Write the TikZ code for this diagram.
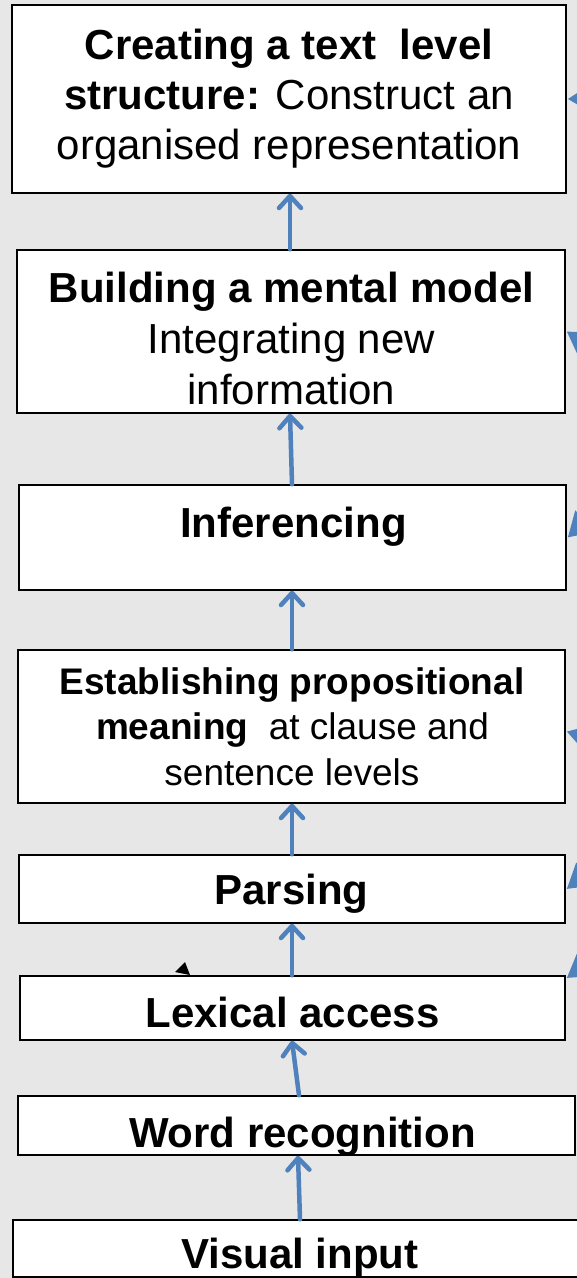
\documentclass[tikz,border=0pt]{standalone}
\usepackage{fontspec}
\setmainfont{Liberation Sans}
\usetikzlibrary{arrows.meta,calc}
\definecolor{bgc}{HTML}{E7E7E7}
\definecolor{ablue}{HTML}{4F81BD}
\begin{document}
\begin{tikzpicture}[x=1pt,y=-1pt,
  box/.style={draw=black,line width=1.5pt,fill=white,inner sep=0pt},
  big/.style={font=\fontsize{42}{50}\selectfont,anchor=base,inner sep=0pt},
  mid/.style={font=\fontsize{37}{45}\selectfont,anchor=base,inner sep=0pt},
  uparrow/.style={draw=ablue,line width=4.5pt,line cap=round,-{Straight Barb[length=12pt,width=22pt,round]}},
  sidearrow/.style={draw=ablue,line width=5pt,-{Triangle[length=24pt,width=28pt]}}
]
\useasboundingbox (0,0) rectangle (577,1278);
\clip (0,0) rectangle (577,1278);
\fill[bgc] (0,0) rectangle (577,1278);

% boxes
\node[box,minimum width=554pt,minimum height=188pt] (b1) at (289,99) {};
\node[box,minimum width=548pt,minimum height=163pt] (b2) at (291,331.5) {};
\node[box,minimum width=547pt,minimum height=105pt] (b3) at (292.5,537.5) {};
\node[box,minimum width=547pt,minimum height=153pt] (b4) at (291.5,726.5) {};
\node[box,minimum width=546pt,minimum height=68pt] (b5) at (292,889) {};
\node[box,minimum width=545pt,minimum height=64pt] (b6) at (292.5,1008) {};
\node[box,minimum width=557pt,minimum height=59pt] (b7) at (296.5,1125.5) {};
\node[box,minimum width=577pt,minimum height=57pt] (b8) at (301.5,1248.5) {};

% texts
\node[big] (t1a) at (289,59) {\textbf{Creating a text\ \ level}};
\node[big] (t1b) at (289,109) {\textbf{structure:} Construct an};
\node[big] (t1c) at (289,159) {organised representation};
\node[big] (t2a) at (291.5,302) {\textbf{Building a mental model}};
\node[big] (t2b) at (291.5,353) {Integrating new};
\node[big] (t2c) at (291.5,404) {information};
\node[big] (t3) at (293.5,537) {\textbf{Inferencing}};
\node[mid] (t4a) at (292,694) {\textbf{Establishing propositional}};
\node[mid] (t4b) at (292.5,739) {\textbf{meaning}\ \ at clause and};
\node[mid] (t4c) at (292,785) {sentence levels};
\node[big] (t5) at (291.5,904) {\textbf{Parsing}};
\node[big] (t6) at (292.5,1027) {\textbf{Lexical access}};
\node[big] (t7) at (302.5,1147) {\textbf{Word recognition}};
\node[big] (t8) at (300,1268) {\textbf{Visual input}};

% upward arrows
\draw[uparrow] ([xshift=-1pt]b2.north) -- ([xshift=1pt]b1.south);
\draw[uparrow] ([xshift=-0.5pt]b3.north) -- ([xshift=-1pt]b2.south);
\draw[uparrow] ([xshift=0.5pt]b4.north) -- ([xshift=-0.5pt]b3.south);
\draw[uparrow] (b5.north) -- ([xshift=0.5pt]b4.south);
\draw[uparrow] ([xshift=-0.5pt]b6.north) -- (b5.south);
\draw[uparrow] ([xshift=2.5pt]b7.north) -- ([xshift=-0.5pt]b6.south);
\draw[uparrow] ([xshift=-1.5pt]b8.north) -- ([xshift=1.5pt]b7.south);

% arrows entering from the right
\coordinate (s1) at (660,97);
\coordinate (s2) at (640,380);
\coordinate (s3) at (640,470);
\coordinate (s4) at (660,760);
\coordinate (s5) at (640,830);
\coordinate (s6) at (640,925);
\draw[sidearrow] (s1) -- ([xshift=1pt]b1.east);
\draw[sidearrow] (s2) -- ([xshift=1pt]b2.east);
\draw[sidearrow] (s3) -- ([xshift=1pt]b3.east);
\draw[sidearrow] (s4) -- ([xshift=1pt,yshift=-5pt]b4.east);
\draw[sidearrow] (s5) -- ([xshift=1pt]b5.east);
\draw[sidearrow] (s6) -- ([xshift=1pt,yshift=30pt]b6.east);

% small black arrowhead
\fill[black] (175,972) -- (185,962) -- (190,975) -- cycle;
\end{tikzpicture}
\end{document}
